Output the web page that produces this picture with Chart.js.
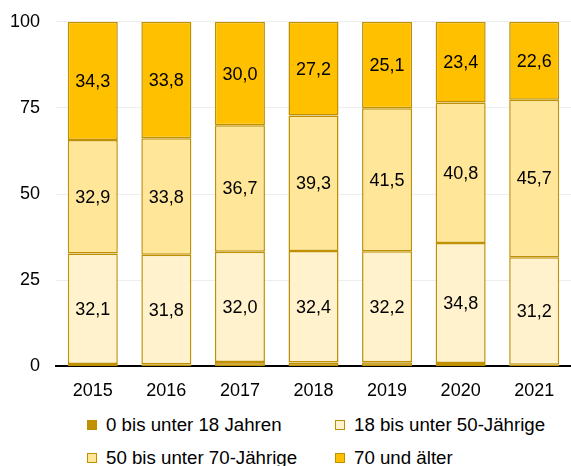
<!DOCTYPE html>
<html lang="de">
<head>
  <meta charset="UTF-8">
  <title>Altersgruppen</title>
  <script src="https://cdn.jsdelivr.net/npm/chart.js"></script>
  <style>
    body { margin: 0; background: #fff; font-family: "Liberation Sans", Arial, sans-serif; }
    #wrap { position: relative; width: 571px; height: 408px; }
    #legend { position: absolute; left: 0; top: 414px; width: 571px; }
    .item { position: absolute; display: flex; align-items: center; font-size: 18.7px; color: #000; white-space: nowrap; }
    .box { width: 8px; height: 8px; border: 1.5px solid #BF9000; margin-right: 9px; }
  </style>
</head>
<body>
  <div id="wrap"><canvas id="chart0"></canvas></div>
  <div id="legend"></div>

  <script>
    /* Data. */
    const years = ["2015", "2016", "2017", "2018", "2019", "2020", "2021"]
    const seriesNames = ["0 bis unter 18 Jahren", "18 bis unter 50-Jährige", "50 bis unter 70-Jährige", "70 und älter"]
    const under18 = [0.7, 0.6, 1.3, 1.1, 1.2, 1.0, 0.5]
    const age18to50 = [32.1, 31.8, 32.0, 32.4, 32.2, 34.8, 31.2]
    const age50to70 = [32.9, 33.8, 36.7, 39.3, 41.5, 40.8, 45.7]
    const age70plus = [34.3, 33.8, 30.0, 27.2, 25.1, 23.4, 22.6]
    const yTicks = [0, 25, 50, 75, 100]

    const fills = ["#BF9000", "#FFF2CC", "#FFE699", "#FFC000"]
    const series = [under18, age18to50, age50to70, age70plus]

    /* Value labels inside the segments (not for the thin bottom one). */
    const segmentLabels = {
      id: "segmentLabels",
      afterDatasetsDraw(chart) {
        const ctx = chart.ctx
        ctx.save()
        ctx.font = "18px 'Liberation Sans', Arial, sans-serif"
        ctx.fillStyle = "#000"
        ctx.textAlign = "center"
        ctx.textBaseline = "middle"
        chart.data.datasets.forEach((ds, i) => {
          if (i === 0) return
          chart.getDatasetMeta(i).data.forEach((bar, j) => {
            const txt = ds.data[j].toFixed(1).replace(".", ",")
            ctx.fillText(txt, bar.x, (bar.y + bar.base) / 2 + 1)
          })
        })
        ctx.restore()
      }
    }

    const ctx0 = document.getElementById("chart0").getContext("2d")
    const myChart0 = new Chart(ctx0, {
      type: "bar",
      data: {
        labels: years,
        datasets: series.map((vals, i) => ({
          label: seriesNames[i],
          data: vals,
          backgroundColor: fills[i],
          borderColor: "#BF9000",
          borderWidth: 1.5,
          borderSkipped: false,
          barPercentage: 0.68,
          categoryPercentage: 1
        }))
      },
      options: {
        responsive: true,
        maintainAspectRatio: false,
        animation: false,
        layout: { padding: { top: 6, right: 0, left: 0, bottom: 0 } },
        plugins: {
          legend: { display: false },
          tooltip: { enabled: false }
        },
        scales: {
          x: {
            stacked: true,
            grid: { display: false },
            border: { display: true, color: "#000", width: 2 },
            ticks: { color: "#000", font: { size: 18, family: "'Liberation Sans', Arial" }, padding: 6 }
          },
          y: {
            stacked: true,
            min: 0,
            max: 100,
            afterBuildTicks: scale => { scale.ticks = yTicks.map(v => ({ value: v })) },
            afterFit: scale => { scale.width = 56 },
            grid: { color: "#eeeeee", drawTicks: false },
            border: { display: false },
            ticks: { color: "#000", font: { size: 18, family: "'Liberation Sans', Arial", lineHeight: 0.65 }, padding: 16 }
          }
        }
      },
      plugins: [segmentLabels]
    })

    /* HTML legend, two columns. */
    const legend = document.getElementById("legend")
    const spots = [[87, 0], [335, 0], [87, 33], [335, 33]]
    seriesNames.forEach((name, i) => {
      const item = document.createElement("div")
      item.className = "item"
      item.style.left = spots[i][0] + "px"
      item.style.top = spots[i][1] + "px"
      item.innerHTML = '<span class="box" style="background:' + fills[i] + '"></span>' + name
      legend.appendChild(item)
    })
  </script>
</body>
</html>
